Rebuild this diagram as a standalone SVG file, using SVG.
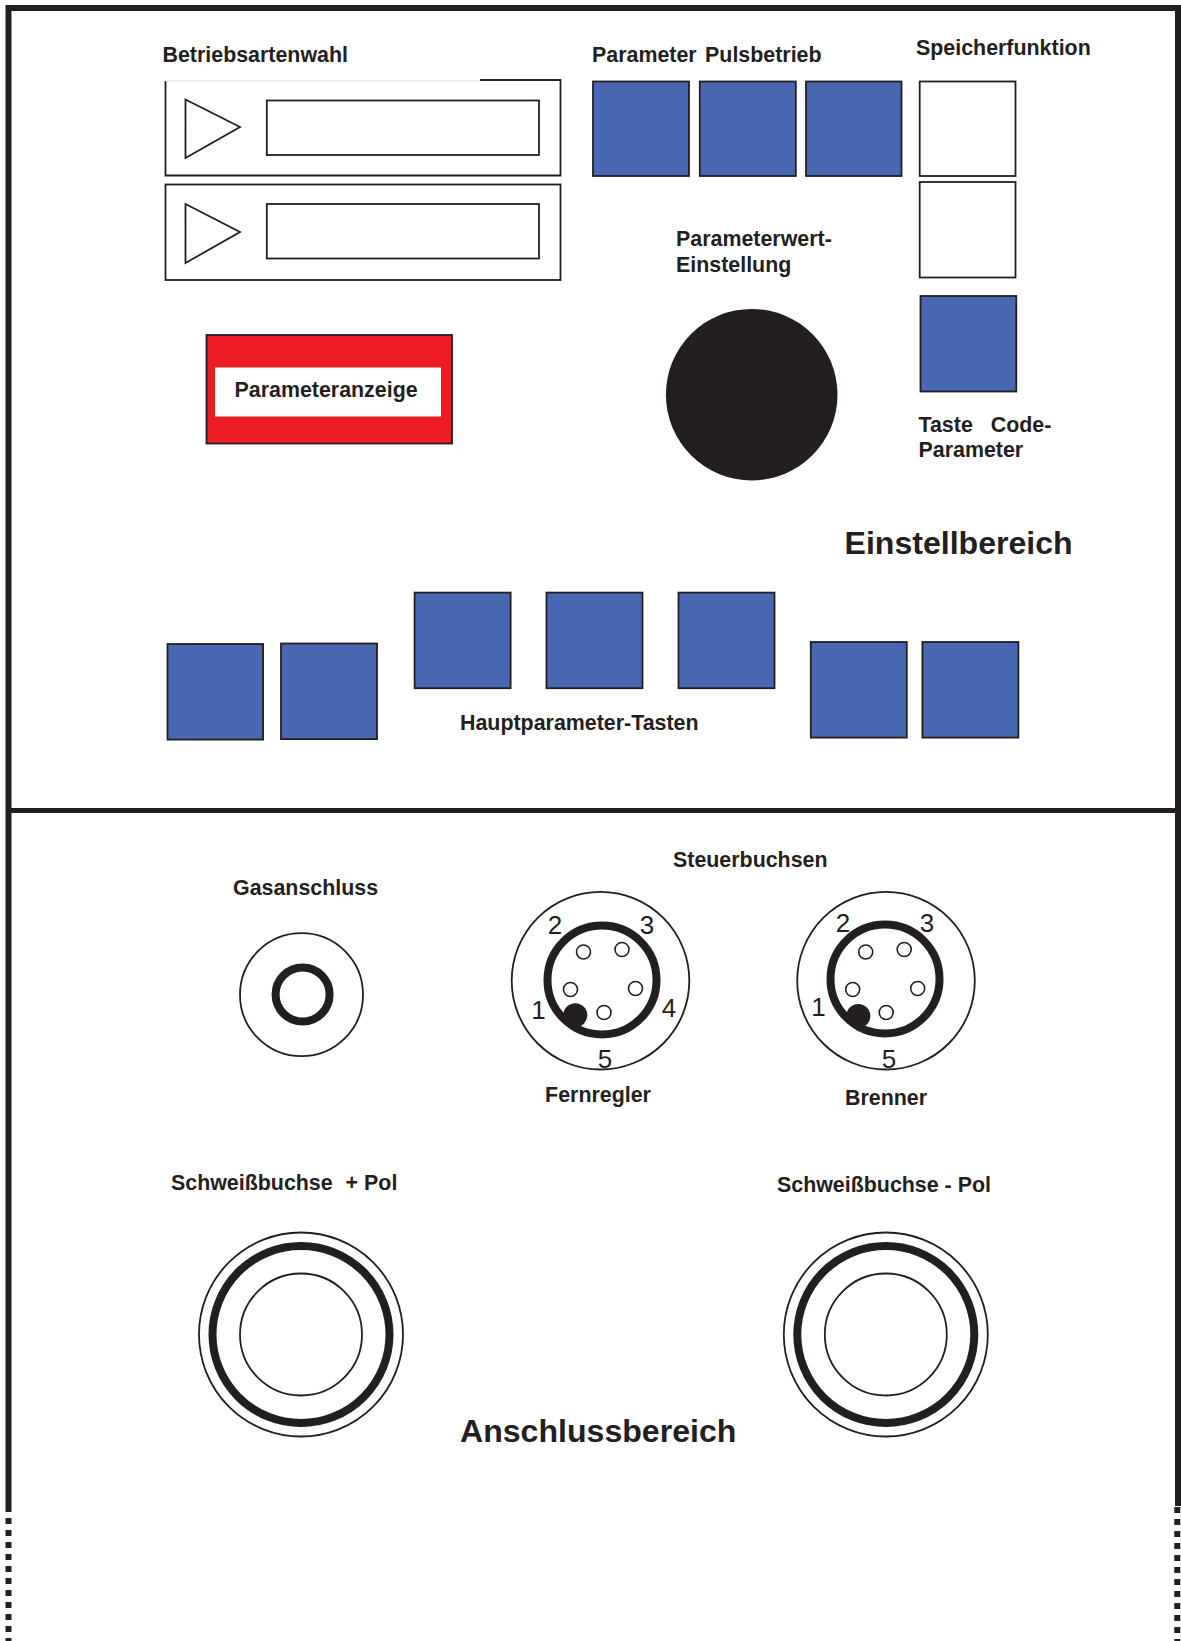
<svg xmlns="http://www.w3.org/2000/svg" width="1181" height="1641" viewBox="0 0 1181 1641">
<defs>
<style>
text{font-family:"Liberation Sans",Arial,sans-serif;fill:#231f20}
.l{font-weight:bold;font-size:21.400px}
.h{font-weight:bold;font-size:32.100px}
.n{font-size:26px;text-anchor:middle}
.c{text-anchor:middle}
.b{fill:#4869b1;stroke:#231f20;stroke-width:1.8}
.w{fill:#fff;stroke:#231f20;stroke-width:1.8}
.t{fill:none;stroke:#231f20;stroke-width:1.8}
.r{fill:none;stroke:#231f20;stroke-width:8}
.p{fill:#fff;stroke:#231f20;stroke-width:1.6}
.k{fill:#231f20}
</style>
<g id="pins">
<circle class="p" cx="-19" cy="-28.500" r="7"/><circle class="p" cx="19.500" cy="-31" r="7"/><circle class="p" cx="-32" cy="9" r="7"/><circle class="p" cx="33" cy="8" r="7"/><circle class="p" cx="1.500" cy="32" r="7"/>
</g>
</defs>
<rect width="1181" height="1641" fill="#fff"/>
<g id="frame">
<path d="M8.500 1506V8H1178V1506" fill="none" stroke="#231f20" stroke-width="6"/>
<path d="M8 810.500H1178" fill="none" stroke="#231f20" stroke-width="5"/>
<path d="M8.500 1506V1641" fill="none" stroke="#231f20" stroke-width="6" stroke-dasharray="6 6"/>
<path d="M1177.300 1507V1641" fill="none" stroke="#231f20" stroke-width="6" stroke-dasharray="6 6"/>
</g>
<g id="betriebsartenwahl">
<text class="l" x="162.500" y="62">Betriebsartenwahl</text>
<path class="t" d="M480 80H560.500V175.500H165.500V81"/>
<path d="M165.500 81H480" stroke="#e0e0e0" stroke-width="1" fill="none"/>
<path class="t" d="M185.500 99.500L240 127L185.500 158Z"/>
<rect class="t" x="266.800" y="100.500" width="272.200" height="54.500"/>
<rect class="t" x="165.500" y="184.500" width="395" height="95.500"/>
<path class="t" d="M185.500 204L240 232L185.500 263Z"/>
<rect class="t" x="266.800" y="204" width="272.200" height="54.500"/>
</g>
<g id="parameter-pulsbetrieb">
<text class="l" x="592" y="62" word-spacing="2.500">Parameter Pulsbetrieb</text>
<rect class="b" x="593" y="81.500" width="96" height="94.500"/>
<rect class="b" x="699.800" y="81.500" width="96" height="94.500"/>
<rect class="b" x="806" y="81.500" width="95.500" height="94.500"/>
</g>
<g id="speicherfunktion">
<text class="l" x="916" y="55">Speicherfunktion</text>
<rect class="w" x="919.700" y="81.500" width="95.800" height="94.500"/>
<rect class="w" x="919.700" y="182" width="95.800" height="95.500"/>
</g>
<g id="code-parameter">
<rect class="b" x="920.500" y="296" width="95.800" height="95.500"/>
<text class="l"><tspan x="918.500" y="432" word-spacing="12">Taste Code-</tspan><tspan x="918.500" y="457">Parameter</tspan></text>
</g>
<g id="parameterwert">
<text class="l"><tspan x="676" y="246">Parameterwert-</tspan><tspan x="676" y="272">Einstellung</tspan></text>
<circle class="k" cx="751.700" cy="394.700" r="85.800"/>
</g>
<g id="parameteranzeige">
<rect x="206.500" y="335" width="245.500" height="108.500" fill="#ee1c25" stroke="#231f20" stroke-width="1.800"/>
<rect x="215" y="367.500" width="226" height="49" fill="#fff"/>
<text class="l" x="234.500" y="397">Parameteranzeige</text>
</g>
<text class="h" x="844.500" y="554">Einstellbereich</text>
<g id="hauptparameter">
<rect class="b" x="167.500" y="644" width="95.600" height="95.600"/>
<rect class="b" x="281" y="643.500" width="96" height="95.600"/>
<rect class="b" x="414.600" y="592.600" width="96" height="95.600"/>
<rect class="b" x="546.500" y="592.600" width="96" height="95.600"/>
<rect class="b" x="678.500" y="592.600" width="96" height="95.600"/>
<rect class="b" x="810.800" y="642" width="96" height="95.600"/>
<rect class="b" x="922.400" y="642" width="96" height="95.600"/>
<text class="l" x="460" y="730">Hauptparameter-Tasten</text>
</g>
<g id="gasanschluss">
<text class="l" x="233" y="895">Gasanschluss</text>
<circle class="t" cx="301.500" cy="994.700" r="61.500"/>
<circle class="r" cx="302.600" cy="994.500" r="27"/>
</g>
<text class="l" x="673" y="867">Steuerbuchsen</text>
<g id="fernregler">
<circle class="t" cx="600.500" cy="980.700" r="88.800"/>
<circle class="r" cx="602" cy="980" r="54.500"/>
<use href="#pins" x="602.500" y="980.500"/>
<circle class="k" cx="575.300" cy="1015.300" r="12"/>
<text class="n" x="555" y="934">2</text><text class="n" x="647" y="934">3</text><text class="n" x="538.500" y="1019">1</text><text class="n" x="669" y="1017">4</text><text class="n" x="605" y="1068">5</text>
<text class="l c" x="598" y="1102">Fernregler</text>
</g>
<g id="brenner">
<circle class="t" cx="886" cy="980.700" r="88.800"/>
<circle class="r" cx="885" cy="979" r="54.500"/>
<use href="#pins" x="884.700" y="980.500"/>
<circle class="k" cx="858.300" cy="1016" r="12"/>
<text class="n" x="843" y="932">2</text><text class="n" x="927" y="932">3</text><text class="n" x="818.500" y="1016">1</text><text class="n" x="889" y="1068">5</text>
<text class="l c" x="886" y="1105">Brenner</text>
</g>
<g id="schweissbuchse-plus">
<text class="l" x="171" y="1190">Schweißbuchse <tspan dx="7">+ Pol</tspan></text>
<circle class="t" cx="301" cy="1334.500" r="102"/>
<circle class="r" cx="301" cy="1334.500" r="88.500"/>
<circle class="t" cx="301" cy="1334.500" r="61"/>
</g>
<g id="schweissbuchse-minus">
<text class="l" x="777" y="1192">Schweißbuchse - Pol</text>
<circle class="t" cx="885.800" cy="1334.500" r="102"/>
<circle class="r" cx="885.800" cy="1334.500" r="88.500"/>
<circle class="t" cx="885.800" cy="1334.500" r="61"/>
</g>
<text class="h" x="460" y="1442">Anschlussbereich</text>
</svg>
